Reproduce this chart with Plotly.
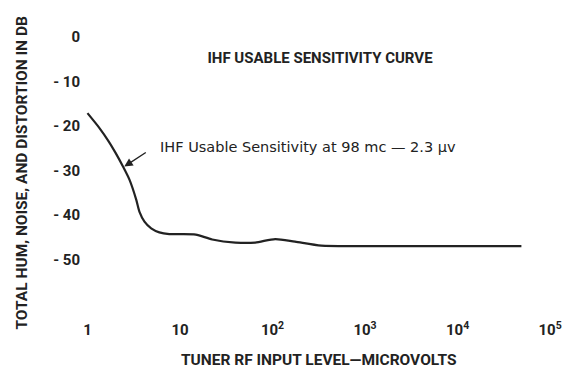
import numpy as np
import plotly.graph_objects as go

# RF input level (microvolts) and total hum, noise & distortion (dB)
rf_input_uv = [1.0, 1.33, 1.70, 2.02, 2.42, 2.85, 3.37, 3.65, 4.13, 4.88,
               5.98, 7.66, 9.8, 14.8, 22.3, 39.7, 65, 107, 175, 337, 1070,
               10000, 49000]
thd_db = [-17.1, -20.3, -23.5, -26.1, -29.1, -32.1, -36.6, -39.3, -41.5,
          -43.0, -43.9, -44.3, -44.3, -44.4, -45.5, -46.2, -46.2, -45.4,
          -46.0, -46.9, -47.0, -47.0, -47.0]

x_tick_vals = [1, 10, 100, 1000, 10000, 100000]
x_tick_text = ["1", "10", "10<sup>2</sup>", "10<sup>3</sup>", "10<sup>4</sup>",
               "10<sup>5</sup>"]
y_tick_vals = [0, -10, -20, -30, -40, -50]
y_tick_text = ["0", "- 10", "- 20", "- 30", "- 40", "- 50"]

sensitivity_label = "IHF Usable Sensitivity at 98 mc — 2.3 µv"

W, H = 566, 371
L, R, T, B = 84, 4, 24, 56
PW, PH = W - L - R, H - T - B

# pixel layout of the log axis: 1 µV at x0, one decade every DEC pixels
X0, DEC = 87.5, 93.3
Y0, PER_DB = 37.0, 4.45

AX_FONT = "Roboto, Liberation Sans, Arial, sans-serif"
INK = "#222222"


def px_to_paper(px, py):
    return (px - L) / PW, (H - B - py) / PH


fig = go.Figure()
fig.add_trace(go.Scatter(
    x=rf_input_uv, y=thd_db, mode="lines",
    line=dict(color=INK, width=2.2, shape="spline", smoothing=0.7),
    hoverinfo="skip", showlegend=False,
))

# pointer from the label to the curve near the usable-sensitivity point
fig.add_annotation(
    x=np.log10(2.5), y=-29.1, xref="x", yref="y",
    ax=23, ay=-15, showarrow=True, arrowhead=2, arrowsize=1.2,
    arrowwidth=1.4, arrowcolor=INK, text="",
)
lx, ly = px_to_paper(159, 147)
fig.add_annotation(
    x=lx, y=ly, xref="paper", yref="paper", xanchor="left", yanchor="middle",
    text=sensitivity_label, showarrow=False,
    font=dict(family="DejaVu Sans, sans-serif", size=14.5, color=INK),
)

# axis titles
tx, ty = px_to_paper(21, 173)
fig.add_annotation(
    x=tx, y=ty, xref="paper", yref="paper", textangle=-90,
    xanchor="center", yanchor="middle",
    text="TOTAL HUM, NOISE, AND DISTORTION IN DB", showarrow=False,
    font=dict(family=AX_FONT, size=15.5, color=INK, weight="bold"),
)
bx, by = px_to_paper(321, 360)
fig.add_annotation(
    x=bx, y=by, xref="paper", yref="paper",
    xanchor="center", yanchor="middle",
    text="TUNER RF INPUT LEVEL—MICROVOLTS", showarrow=False,
    font=dict(family=AX_FONT, size=15.5, color=INK, weight="bold"),
)

fig.update_layout(
    width=W, height=H,
    margin=dict(l=L, r=R, t=T, b=B),
    paper_bgcolor="white", plot_bgcolor="white",
    title=dict(text="IHF USABLE SENSITIVITY CURVE", x=320 / W, y=1 - 58 / H,
               xanchor="center", yanchor="middle",
               font=dict(family=AX_FONT, size=15, color=INK, weight="bold")),
    xaxis=dict(type="log",
               range=[(L - X0) / DEC, (W - R - X0) / DEC],
               tickvals=x_tick_vals, ticktext=x_tick_text,
               showgrid=False, zeroline=False, showline=False, ticks="",
               ticklabelstandoff=4,
               tickfont=dict(family=AX_FONT, size=15, color=INK, weight="bold")),
    yaxis=dict(range=[-(H - B - Y0) / PER_DB, (Y0 - T) / PER_DB],
               tickvals=y_tick_vals, ticktext=y_tick_text,
               showgrid=False, zeroline=False, showline=False, ticks="",
               ticklabelstandoff=3,
               tickfont=dict(family=AX_FONT, size=15, color=INK, weight="bold")),
)

fig.write_html("out.html")
